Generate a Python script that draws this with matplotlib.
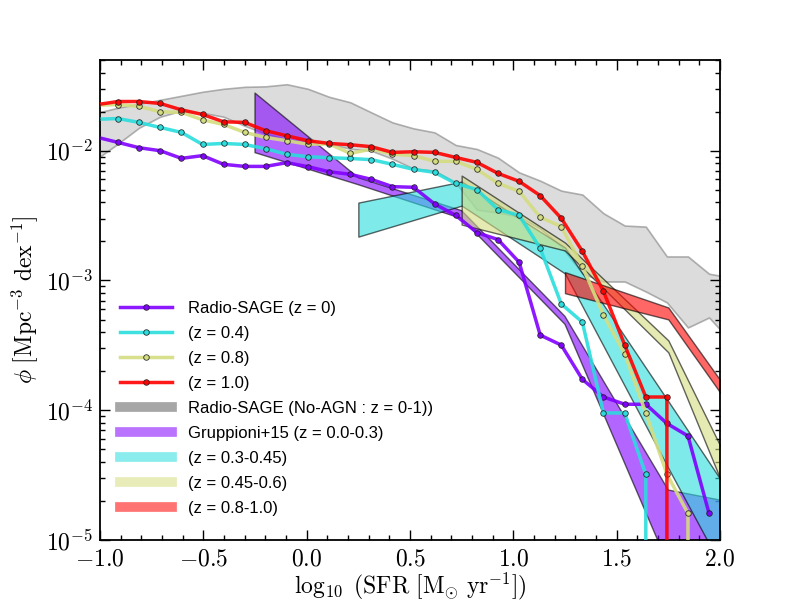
import numpy as np
import matplotlib
matplotlib.use("Agg")
import matplotlib.pyplot as plt
from matplotlib.lines import Line2D
from matplotlib.ticker import FuncFormatter, LogLocator, MultipleLocator, NullFormatter

plt.rcParams["mathtext.fontset"] = "cm"
plt.rcParams["font.family"] = ["Liberation Sans", "DejaVu Sans"]

# bin centres of the Radio-SAGE SFR functions (log10 SFR)
sfr = [-1.015, -0.913, -0.811, -0.709, -0.606, -0.504, -0.402, -0.300, -0.198, -0.096,
       0.006, 0.109, 0.211, 0.313, 0.415, 0.517, 0.619, 0.721, 0.824, 0.926,
       1.028, 1.130, 1.232, 1.334, 1.436, 1.539, 1.641, 1.743, 1.845, 1.947, 2.049]

# log10 phi, Radio-SAGE; -inf marks an empty bin
logphi_z00 = [-1.896, -1.936, -1.977, -2.000, -2.059, -2.038, -2.105, -2.121, -2.121, -2.092,
              -2.123, -2.162, -2.182, -2.221, -2.277, -2.282, -2.410, -2.498, -2.631, -2.685,
              -2.859, -3.421, -3.498, -3.762, -3.898, -3.954, -3.954, -4.102, -4.198, -4.795]
logphi_z04 = [-1.758, -1.752, -1.782, -1.821, -1.859, -1.952, -1.944, -1.952, -1.985, -2.028,
              -2.046, -2.054, -2.060, -2.069, -2.105, -2.144, -2.167, -2.252, -2.300, -2.454,
              -2.498, -2.752, -3.181, -3.321, -4.021, -4.021, -4.495, -np.inf]
logphi_z08 = [-1.650, -1.644, -1.659, -1.700, -1.705, -1.762, -1.798, -1.859, -1.898, -1.923,
              -1.950, -1.948, -2.021, -1.987, -2.027, -2.038, -2.082, -2.082, -2.144, -2.252,
              -2.313, -2.513, -2.585, -2.890, -3.265, -3.567, -4.021, -4.492, -4.795, -np.inf]
logphi_z10 = [-1.645, -1.621, -1.621, -1.636, -1.685, -1.721, -1.777, -1.782, -1.846, -1.885,
              -1.923, -1.944, -1.954, -1.969, -2.013, -2.008, -2.013, -2.052, -2.090, -2.175,
              -2.236, -2.346, -2.521, -2.775, -3.082, -3.498, -3.898, -3.898, -np.inf]

# No-AGN envelope over z = 0-1
noagn_hi = [-1.708, -1.669, -1.638, -1.608, -1.577, -1.546, -1.523, -1.508, -1.504, -1.488,
            -1.523, -1.585, -1.627, -1.705, -1.782, -1.828, -1.859, -1.956, -1.987, -2.054,
            -2.167, -2.231, -2.308, -2.338, -2.482, -2.577, -2.585, -2.815, -2.815, -2.948, -2.977]
noagn_lo = [-2.062, -1.946, -1.823, -1.738, -1.692, -1.708, -1.738, -1.808, -1.869, -1.915,
            -1.931, -1.946, -1.985, -2.000, -2.062, -2.138, -2.154, -2.246, -2.454, -2.477,
            -2.508, -2.600, -2.738, -2.946, -3.008, -3.008, -3.085, -3.169, -3.362, -3.285, -3.462]

# Gruppioni+15 observed SFR functions
g_sfr = [-0.25, 0.25, 0.75, 1.25, 1.75, 2.25]
g1_hi = [-1.556, -2.208, -2.462, -3.277, -4.615, -4.769]
g1_lo = [-2.015, -2.262, -2.523, -3.338, -5.192, -6.230]
g2_hi = [-2.400, -2.238, -2.746, -3.931, -5.123]
g2_lo = [-2.662, -2.423, -2.946, -4.446, -5.923]
g3_hi = [-2.192, -2.708, -3.462, -5.077]
g3_lo = [-2.569, -2.769, -3.554, -5.492]
g4_hi = [-2.936, -3.208, -4.323]
g4_lo = [-3.098, -3.300, -4.423]

model_labels = ["Radio-SAGE (z = 0)", "(z = 0.4)", "(z = 0.8)", "(z = 1.0)"]
obs_labels = ["Gruppioni+15 (z = 0.0-0.3)", "(z = 0.3-0.45)", "(z = 0.45-0.6)", "(z = 0.8-1.0)"]

colors = plt.cm.rainbow(np.linspace(0, 1, 4))

fig, ax = plt.subplots(figsize=(8, 6), dpi=100)
fig.subplots_adjust(left=0.125, right=0.9, bottom=0.1, top=0.9)

# No-AGN band
n = len(noagn_hi)
ax.fill_between(sfr[:n], 10 ** np.array(noagn_lo), 10 ** np.array(noagn_hi),
                facecolor=(0.5, 0.5, 0.5, 0.27), edgecolor=(0.5, 0.5, 0.5, 0.6),
                lw=1.2, zorder=1)

# observational bands
bands = [(g1_lo, g1_hi), (g2_lo, g2_hi), (g3_lo, g3_hi), (g4_lo, g4_hi)]
for (lo, hi), c in zip(bands, colors):
    m = len(hi)
    ax.fill_between(g_sfr[-m:], 10 ** np.array(lo), 10 ** np.array(hi),
                    facecolor=c, edgecolor="k", alpha=0.6, lw=1.0, zorder=2)

# model lines
series = [logphi_z00, logphi_z04, logphi_z08, logphi_z10]
handles = []
for vals, c, lab in zip(series, colors, model_labels):
    m = len(vals)
    h, = ax.plot(sfr[:m], 10 ** np.array(vals), "-o", color=c, lw=2.5, ms=4,
                 mec=(0.1, 0.1, 0.1), mew=0.6, mfc=c, alpha=0.9, label=lab, zorder=3)
    handles.append(h)

handles.append(Line2D([], [], color="gray", lw=7, alpha=0.7,
                      label="Radio-SAGE (No-AGN : z = 0-1))"))
for c, lab in zip(colors, obs_labels):
    handles.append(Line2D([], [], color=c, lw=7, alpha=0.55, label=lab))

ax.set_yscale("log")
ax.set_xlim(-1.0, 2.0)
ax.set_ylim(1e-5, 5e-2)

ax.xaxis.set_major_locator(MultipleLocator(0.5))
ax.xaxis.set_minor_locator(MultipleLocator(0.1))
ax.xaxis.set_major_formatter(FuncFormatter(lambda v, p: r"$%.1f$" % v))
ax.yaxis.set_major_locator(LogLocator(base=10))
ax.yaxis.set_minor_locator(LogLocator(base=10, subs=np.arange(2, 10)))
ax.yaxis.set_major_formatter(FuncFormatter(lambda v, p: r"$10^{%d}$" % round(np.log10(v))))
ax.yaxis.set_minor_formatter(NullFormatter())

ax.tick_params(which="both", direction="in", top=True, right=True, labelsize=17)
ax.tick_params(which="major", length=7, width=1)
ax.tick_params(which="minor", length=3.5, width=1)
ax.tick_params(axis="x", pad=6)
ax.tick_params(axis="y", pad=5)
for s in ax.spines.values():
    s.set_linewidth(1.3)

ax.set_xlabel(r"$\log_{10}\ (\mathrm{SFR}\ [\mathrm{M}_{\odot}\ \mathrm{yr}^{-1}])$",
              fontsize=17, labelpad=0)
ax.set_ylabel(r"$\phi\ [\mathrm{Mpc}^{-3}\ \mathrm{dex}^{-1}]$", fontsize=17, labelpad=4)

ax.legend(handles=handles, loc="lower left", bbox_to_anchor=(0.0, 0.008), frameon=False,
          fontsize=12, numpoints=1, handlelength=3.1, handletextpad=1.0,
          labelspacing=0.6, borderaxespad=0.8)

fig.savefig("out.png", dpi=100, facecolor="white")
